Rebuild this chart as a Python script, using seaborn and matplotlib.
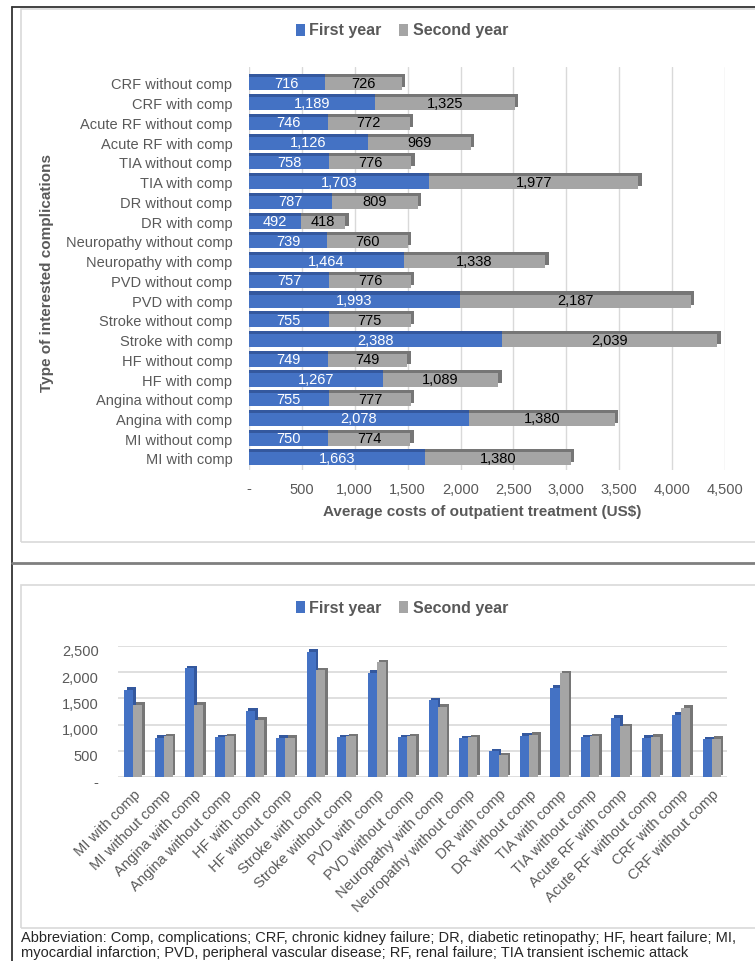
import numpy as np
import pandas as pd
import matplotlib
matplotlib.use("Agg")
import matplotlib.pyplot as plt
import matplotlib.patheffects as pe
from matplotlib.lines import Line2D
from matplotlib.patches import Patch, Rectangle
from matplotlib.transforms import ScaledTranslation
import seaborn as sns

# ---- data (order as in the bottom chart) ----
categories = ["MI with comp", "MI without comp", "Angina with comp", "Angina without comp",
              "HF with comp", "HF without comp", "Stroke with comp", "Stroke without comp",
              "PVD with comp", "PVD without comp", "Neuropathy with comp", "Neuropathy without comp",
              "DR with comp", "DR without comp", "TIA with comp", "TIA without comp",
              "Acute RF with comp", "Acute RF without comp", "CRF with comp", "CRF without comp"]
first_year = [1663, 750, 2078, 755, 1267, 749, 2388, 755, 1993, 757,
              1464, 739, 492, 787, 1703, 758, 1126, 746, 1189, 716]
second_year = [1380, 774, 1380, 777, 1089, 749, 2039, 775, 2187, 776,
               1338, 760, 418, 809, 1977, 776, 969, 772, 1325, 726]
top_ticks = [0, 500, 1000, 1500, 2000, 2500, 3000, 3500, 4000, 4500]
bottom_ticks = [0, 500, 1000, 1500, 2000, 2500]

BLUE = "#4472C4"
GRAY = "#A5A5A5"
BLUE_SIDE = "#34589E"
GRAY_SIDE = "#767676"
TXT = "#595959"
GRID = "#D9D9D9"

sns.set_theme(style="white")
plt.rcParams["font.family"] = ["Liberation Sans", "DejaVu Sans"]

W, H = 755, 961
fig = plt.figure(figsize=(W / 100, H / 100), dpi=100)


def fx(px):
    return px / W


def fy(px):
    return 1 - px / H


def fmt(v):
    return "-" if v == 0 else f"{v:,}"


# ---- frames ----
fig.add_artist(Line2D([fx(12), fx(12)], [fy(7), 0], color="#333333", lw=1.3))
fig.add_artist(Line2D([fx(12), 1], [fy(7), fy(7)], color="#333333", lw=1.3))
fig.add_artist(Line2D([fx(12), 1], [fy(563), fy(563)], color="#7F7F7F", lw=2))
fig.add_artist(Rectangle((fx(21), fy(542)), 1, fy(9) - fy(542), fill=False,
                         edgecolor=GRID, lw=1.2, transform=fig.transFigure))
fig.add_artist(Rectangle((fx(21), fy(928)), 1, fy(585) - fy(928), fill=False,
                         edgecolor=GRID, lw=1.2, transform=fig.transFigure))

# ==========================================
# top: stacked horizontal bars
# ==========================================
top_df = pd.DataFrame({
    "cat": categories[::-1],
    "first": first_year[::-1],
    "second": second_year[::-1],
})
top_df["total"] = top_df["first"] + top_df["second"]

ax1 = fig.add_axes([fx(249), fy(470), fx(725) - fx(249), fy(67) - fy(470)])
sns.barplot(data=top_df, x="total", y="cat", orient="h", color=GRAY, width=0.66,
            errorbar=None, linewidth=0, saturation=1, ax=ax1)
sns.barplot(data=top_df, x="first", y="cat", orient="h", color=BLUE, width=0.66,
            errorbar=None, linewidth=0, saturation=1, ax=ax1)

n = len(categories)
for i, p in enumerate(ax1.patches):
    if i < n:
        p.set_path_effects([pe.SimplePatchShadow(offset=(2.4, 2.2), shadow_rgbFace=GRAY_SIDE, alpha=1),
                            pe.Normal()])
    else:
        p.set_path_effects([pe.SimplePatchShadow(offset=(0, 2.2), shadow_rgbFace=BLUE_SIDE, alpha=1),
                            pe.Normal()])

for i, row in top_df.iterrows():
    ax1.text(row["first"] / 2, i, f"{row['first']:,}", color="white", fontsize=10.5,
             ha="center", va="center")
    ax1.text(row["first"] + row["second"] / 2, i, f"{row['second']:,}", color="black",
             fontsize=10.5, ha="center", va="center")

ax1.set_xlim(0, 4500)
ax1.set_ylim(n - 1 + 0.56, -0.86)
ax1.set_xticks(top_ticks)
ax1.set_xticklabels([fmt(t) for t in top_ticks])
ax1.grid(axis="x", color=GRID, lw=1)
ax1.set_axisbelow(True)
for s in ax1.spines.values():
    s.set_visible(False)
ax1.tick_params(axis="x", length=0, pad=9, labelsize=10.5, labelcolor=TXT)
ax1.tick_params(axis="y", length=0, pad=12, labelsize=10.5, labelcolor=TXT)
ax1.set_xlabel("Average costs of outpatient treatment (US$)", fontsize=11,
               fontweight="bold", color=TXT)
ax1.set_ylabel("Type of interested complications", fontsize=11,
               fontweight="bold", color=TXT)
ax1.xaxis.set_label_coords(0.49, -0.087)
ax1.yaxis.set_label_coords(-0.41, 0.49)

legend_handles = [Patch(facecolor=BLUE, edgecolor="none", label="First year"),
                  Patch(facecolor=GRAY, edgecolor="none", label="Second year")]


def add_legend(ax, y_px):
    leg = fig.legend(handles=legend_handles, loc="center", ncol=2, frameon=False,
                     bbox_to_anchor=(fx(402), fy(y_px)), handlelength=0.55,
                     handleheight=0.8, handletextpad=0.3, columnspacing=1.1,
                     prop={"size": 11.5, "weight": "bold"})
    for t in leg.get_texts():
        t.set_color(TXT)


add_legend(ax1, 31)

# ==========================================
# bottom: grouped vertical bars
# ==========================================
bot_df = pd.DataFrame({
    "cat": categories * 2,
    "cost": first_year + second_year,
    "year": ["First year"] * n + ["Second year"] * n,
})

ax2 = fig.add_axes([fx(118), fy(777), fx(727) - fx(118), fy(646) - fy(777)])
sns.barplot(data=bot_df, x="cat", y="cost", hue="year", palette=[BLUE, GRAY],
            width=0.6, errorbar=None, linewidth=0, saturation=1, legend=False, ax=ax2)

for i, p in enumerate(ax2.patches):
    side = BLUE_SIDE if i < n else GRAY_SIDE
    p.set_path_effects([pe.SimplePatchShadow(offset=(1.8, 1.8), shadow_rgbFace=side, alpha=1),
                        pe.Normal()])

ax2.set_ylim(0, 2500)
ax2.set_xlim(-0.5, n - 0.5)
ax2.set_yticks(bottom_ticks)
ax2.set_yticklabels([fmt(t) for t in bottom_ticks])
ax2.grid(axis="y", color=GRID, lw=1.2)
ax2.set_axisbelow(True)
for s in ax2.spines.values():
    s.set_visible(False)
ax2.set_xlabel("")
ax2.set_ylabel("")
ax2.tick_params(axis="y", length=0, pad=14, labelsize=10.5, labelcolor=TXT)
ax2.tick_params(axis="x", length=0, pad=11, labelsize=10.5, labelcolor=TXT)
ax2.set_xticks(range(n))
ax2.set_xticklabels(categories, rotation=45, ha="right", va="center", rotation_mode="anchor")
for lab in ax2.get_xticklabels():
    lab.set_transform(lab.get_transform() + ScaledTranslation(0.05, 0, fig.dpi_scale_trans))
for lab in ax2.get_yticklabels():
    lab.set_transform(lab.get_transform() + ScaledTranslation(0, -0.05, fig.dpi_scale_trans))

add_legend(ax2, 608)

# ---- caption ----
fig.text(fx(21), fy(938), "Abbreviation: Comp, complications; CRF, chronic kidney failure; "
         "DR, diabetic retinopathy; HF, heart failure; MI,", fontsize=10.5, va="center", ha="left")
fig.text(fx(21), fy(953), "myocardial infarction; PVD, peripheral vascular disease; "
         "RF, renal failure; TIA transient ischemic attack", fontsize=10.5, va="center", ha="left")

fig.savefig("out.png", dpi=100, facecolor="white")
